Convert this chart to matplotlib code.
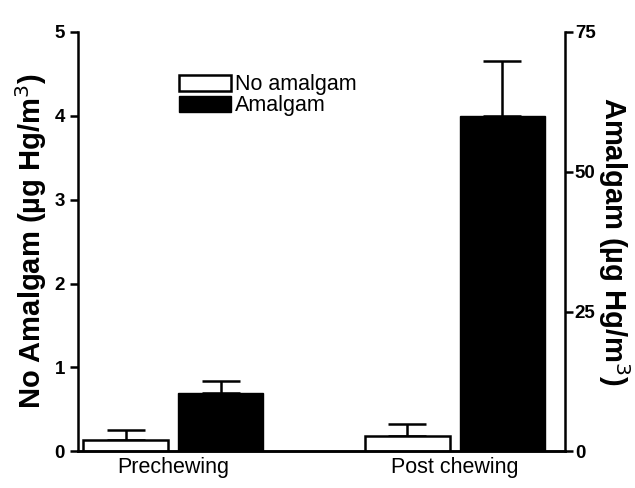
import matplotlib
matplotlib.use("Agg")
import matplotlib.pyplot as plt
from matplotlib.patches import Patch

plt.rcParams['font.family'] = ['Liberation Sans', 'DejaVu Sans']

# data
groups = ["Prechewing", "Post chewing"]
no_amalgam = [0.13, 0.18]          # left axis, ug Hg/m3
no_amalgam_err = [0.12, 0.15]
amalgam = [10.5, 60.0]             # right axis, ug Hg/m3
amalgam_err = [2.0, 9.8]

centers = [1.12, 4.43]
width = 1.0
off = 0.56

fig = plt.figure(figsize=(6.35, 4.88), dpi=100)
ax = fig.add_axes([0.123, 0.075, 0.767, 0.86])
ax2 = ax.twinx()

x_white = [c - off for c in centers]
x_black = [c + off for c in centers]

lw = 1.8
ax.bar(x_white, no_amalgam, width, color="white", edgecolor="black", linewidth=lw, zorder=3)
ax.errorbar(x_white, no_amalgam, yerr=[[0, 0], no_amalgam_err], fmt="none",
            ecolor="black", elinewidth=lw, capsize=14, capthick=lw, zorder=2)
ax2.bar(x_black, amalgam, width, color="black", edgecolor="black", zorder=3)
ax2.errorbar(x_black, amalgam, yerr=[[0, 0], amalgam_err], fmt="none",
             ecolor="black", elinewidth=lw, capsize=14, capthick=lw, zorder=2)

ax.set_xlim(0, 5.73)
ax.set_ylim(0, 5)
ax2.set_ylim(0, 75)
ax.set_yticks([0, 1, 2, 3, 4, 5])
ax2.set_yticks([0, 25, 50, 75])
ax.set_xticks(centers)
ax.set_xticklabels(groups)
ax.tick_params(axis="x", length=0, pad=4, labelsize=15.5)
ax.tick_params(axis="y", direction="out", length=6, width=lw, labelsize=13.5)
ax2.tick_params(axis="y", direction="out", length=6, width=lw, labelsize=13.5, pad=1)

for a in (ax, ax2):
    a.spines["top"].set_visible(False)
    for s in a.spines.values():
        s.set_linewidth(lw)
ax.spines["right"].set_visible(False)
ax2.spines["left"].set_visible(False)
for lab in ax.get_yticklabels() + ax2.get_yticklabels():
    lab.set_fontweight("bold")

ax.set_ylabel("No Amalgam (\u00b5g Hg/m$^3$)", fontsize=21, fontweight="bold", labelpad=4)
ax2.set_ylabel("Amalgam (\u00b5g Hg/m$^3$)", fontsize=21, fontweight="bold",
               rotation=270, labelpad=26)

handles = [Patch(facecolor="white", edgecolor="black", linewidth=lw),
           Patch(facecolor="black", edgecolor="black")]
ax.legend(handles, ["No amalgam", "Amalgam"], loc="upper left",
          bbox_to_anchor=(0.265, 0.87), bbox_transform=fig.transFigure,
          frameon=False, fontsize=15.5, handlelength=2.4, handleheight=0.75,
          handletextpad=0.2, labelspacing=0.0, borderpad=0)

fig.savefig("out.png", dpi=100)
